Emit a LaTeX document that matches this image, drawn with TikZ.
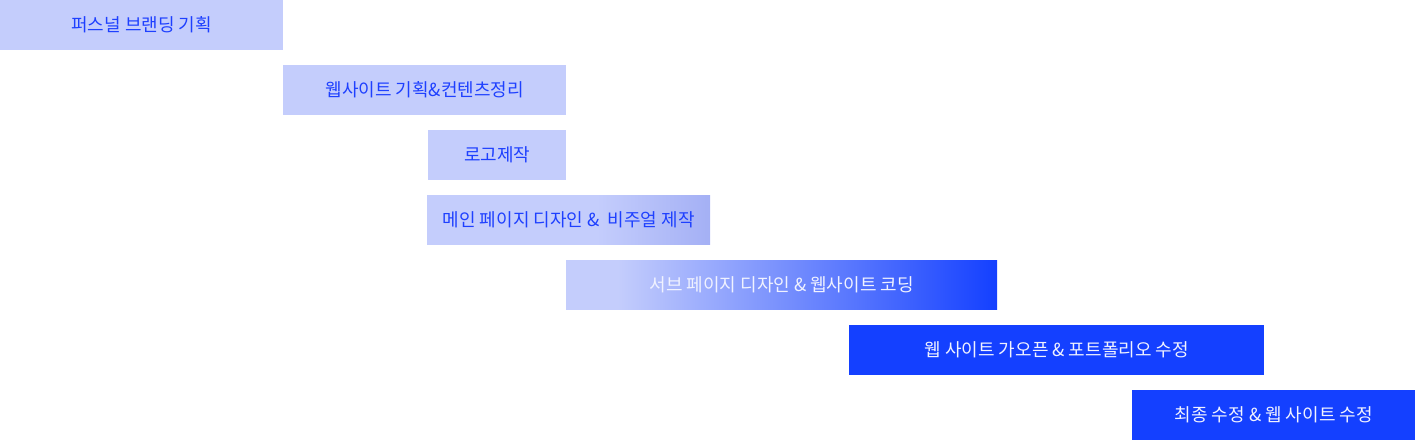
\documentclass[tikz,border=0pt]{standalone}
\usepackage{fontspec}
\setmainfont{Noto Sans CJK KR}
\definecolor{lite}{RGB}{196,205,252}
\definecolor{deep}{RGB}{20,64,255}
\definecolor{endfour}{RGB}{164,176,245}
\definecolor{txtblue}{RGB}{30,64,255}
\definecolor{txtwhite}{RGB}{240,242,255}
\pgfdeclarehorizontalshading{barfour}{100bp}{color(0bp)=(lite); color(25bp)=(lite); color(55bp)=(lite); color(75bp)=(endfour); color(100bp)=(endfour)}
\pgfdeclarehorizontalshading{barfive}{100bp}{color(0bp)=(lite); color(25bp)=(lite); color(31bp)=(lite); color(75bp)=(deep); color(100bp)=(deep)}
\tikzset{
  bar/.style={anchor=north west, inner sep=0pt, minimum height=49.5pt, draw=none,
    font=\fontsize{18}{21}\selectfont},
  litebar/.style={bar, fill=lite, text=txtblue},
  deepbar/.style={bar, fill=deep, text=txtwhite},
}
\begin{document}
\begin{tikzpicture}[x=1pt,y=-1pt]
\useasboundingbox (0,0) rectangle (1415,440);
\node[litebar, minimum width=283pt] (t1) at (0,0) {퍼스널 브랜딩 기획};
\node[litebar, minimum width=283pt] (t2) at (283,65) {웹사이트 기획\&컨텐츠정리};
\node[litebar, minimum width=138pt] (t3) at (428,130) {로고제작};
\node[bar, shading=barfour, text=txtblue, minimum width=283pt] (t4) at (427,195) {메인 페이지 디자인 \&~ 비주얼 제작};
\node[bar, shading=barfive, text=txtwhite, minimum width=431pt] (t5) at (566,260) {서브 페이지 디자인 \& 웹사이트 코딩};
\node[deepbar, minimum width=415pt] (t6) at (849,325) {웹 사이트 가오픈 \& 포트폴리오 수정};
\node[deepbar, minimum width=283pt] (t7) at (1132,390) {최종 수정 \& 웹 사이트 수정};
\end{tikzpicture}
\end{document}
